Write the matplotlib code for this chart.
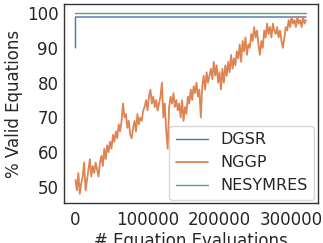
import matplotlib
matplotlib.use("Agg")
import matplotlib.pyplot as plt
import seaborn as sns
import numpy as np

sns.set_style("white")
plt.rcParams['font.family'] = ['DejaVu Sans']

# Data
dgsr_x = [0, 1, 320000]
dgsr_y = [90.0, 98.9, 98.9]

nesymres_x = [0, 320000]
nesymres_y = [100.0, 100.0]

nggp_step = 2000
nggp_y = [
    52, 49, 54, 48, 51, 53, 57, 49, 52,
    55, 58, 53, 56, 54, 57, 55,
    53, 57,
    59, 56, 61, 58, 62, 60, 63,
    61, 65, 63,
    66, 64, 68, 66,
    69, 74, 70, 71,
    67, 69, 65, 64, 67,
    69, 66, 71, 68, 70, 69, 72,
    73, 75, 72, 76, 78, 74, 76, 73, 75,
    72, 74, 76, 80,
    70, 74, 66,
    61,
    73, 76, 74, 77, 73, 75, 72, 74,
    70, 75, 69, 73, 71, 76, 74,
    78, 75, 79, 77, 80, 76, 78,
    70,
    79, 82, 78, 83, 80, 82,
    84, 81, 86, 82, 85, 80, 83,
    78, 84, 80, 85, 82,
    86, 83, 88, 84,
    87, 85, 89,
    87, 91, 86, 92,
    89, 93, 88, 91, 90,
    94, 92, 96, 93, 95,
    91, 88, 92, 90,
    95, 93, 97, 94, 96, 93, 97, 95, 94, 96, 93, 95,
    92, 90, 93,
    96, 95, 98, 96, 99, 97,
    98, 96, 99, 97, 98, 96, 99, 97, 98,
]
nggp_x = [i * nggp_step for i in range(len(nggp_y))]

labels = ["DGSR", "NGGP", "NESYMRES"]
colors = ["#4c72b0", "#dd8452", "#55a868"]

fig = plt.figure(figsize=(3.23, 2.43), dpi=100)
ax = fig.add_axes([0.198, 0.165, 0.785, 0.818])

ax.plot(dgsr_x, dgsr_y, color=colors[0], lw=1.0, label=labels[0])
ax.plot(nggp_x, nggp_y, color=colors[1], lw=1.3, label=labels[1])
ax.plot(nesymres_x, nesymres_y, color=colors[2], lw=1.0, label=labels[2])

fs = 12
ax.set_xticks([0, 100000, 200000, 300000])
ax.set_xticklabels(["0", "100000", "200000", "300000"])
ax.set_yticks([50, 60, 70, 80, 90, 100])
ax.tick_params(axis="x", labelsize=fs, length=0, pad=6)
ax.tick_params(axis="y", labelsize=fs, length=0, pad=4)
ax.set_xlabel("# Equation Evaluations", fontsize=fs, labelpad=2)
ax.set_ylabel("% Valid Equations", fontsize=fs, labelpad=3)
for s in ax.spines.values():
    s.set_color("#333333")
    s.set_linewidth(1.0)

ax.legend(loc="lower right", fontsize=11.5, borderaxespad=0.2, handlelength=2.0)

fig.savefig("out.png", dpi=100)
